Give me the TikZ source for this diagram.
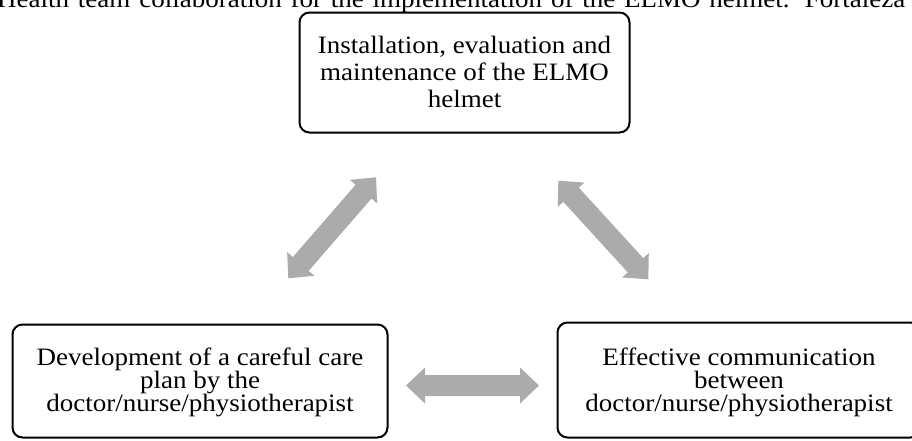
\documentclass[tikz,border=0pt]{standalone}
\usepackage{fontspec}
\setmainfont{Liberation Serif}[FakeStretch=1.08]
\usetikzlibrary{calc}
\definecolor{arrowgray}{HTML}{ABABAB}
\tikzset{
  stepbox/.style={draw=black, line width=2pt, rounded corners=10pt, rectangle, inner sep=0pt},
  boxtext/.style={align=center, inner sep=0pt, font=\fontsize{25}{27}\selectfont},
}
% block double arrow between two named coordinates (#1,#2), prefix #3
\newcommand\blkarrow[3]{%
  \coordinate (#3a) at ($(#1)!19pt!(#2)$);
  \coordinate (#3b) at ($(#2)!19pt!(#1)$);
  \fill[arrowgray] (#1)
    -- ($(#3a)!18pt!90:(#2)$)
    -- ($(#3a)!10.5pt!90:(#2)$)
    -- ($(#3b)!10.5pt!-90:(#1)$)
    -- ($(#3b)!18pt!-90:(#1)$)
    -- (#2)
    -- ($(#3b)!18pt!90:(#1)$)
    -- ($(#3b)!10.5pt!90:(#1)$)
    -- ($(#3a)!10.5pt!-90:(#2)$)
    -- ($(#3a)!18pt!-90:(#2)$)
    -- cycle;}
\begin{document}
\begin{tikzpicture}[x=1pt,y=-1pt]
\useasboundingbox (0,0) rectangle (912,440);
% caption (cut off at top)
\node[anchor=base west, inner sep=0pt, font=\fontsize{25}{27}\selectfont] (caption) at (-3,7)
  {\makebox[908pt][s]{Health team collaboration for the implementation of the ELMO helmet. Fortaleza}};
% boxes
\node[stepbox, minimum width=330pt, minimum height=120pt] (top) at (464.5,72.5) {};
\node[stepbox, minimum width=375pt, minimum height=113pt] (left) at (200,381) {};
\node[stepbox, minimum width=363pt, minimum height=115pt] (right) at (739,380) {};
% texts (anchor = baseline of last line)
\node[boxtext, anchor=base] (toptxt) at (464.5,107)
  {Installation, evaluation and\\maintenance of the ELMO\\helmet};
\node[boxtext, anchor=base, font=\fontsize{25}{23}\selectfont] (lefttxt) at (200,411)
  {Development of a careful care\\plan by the\\doctor/nurse/physiotherapist};
\node[boxtext, anchor=base, font=\fontsize{25}{23}\selectfont] (righttxt) at (739,411)
  {Effective communication\\between\\doctor/nurse/physiotherapist};
% arrow end points
\coordinate (l1) at (288.3,278.3);
\coordinate (l2) at (376,177.3);
\coordinate (r1) at (558.3,180.7);
\coordinate (r2) at (648.3,279.3);
\coordinate (h1) at (406,385.5);
\coordinate (h2) at (539,385.5);
\blkarrow{l1}{l2}{la}
\blkarrow{r1}{r2}{ra}
\blkarrow{h1}{h2}{ha}
\end{tikzpicture}
\end{document}
